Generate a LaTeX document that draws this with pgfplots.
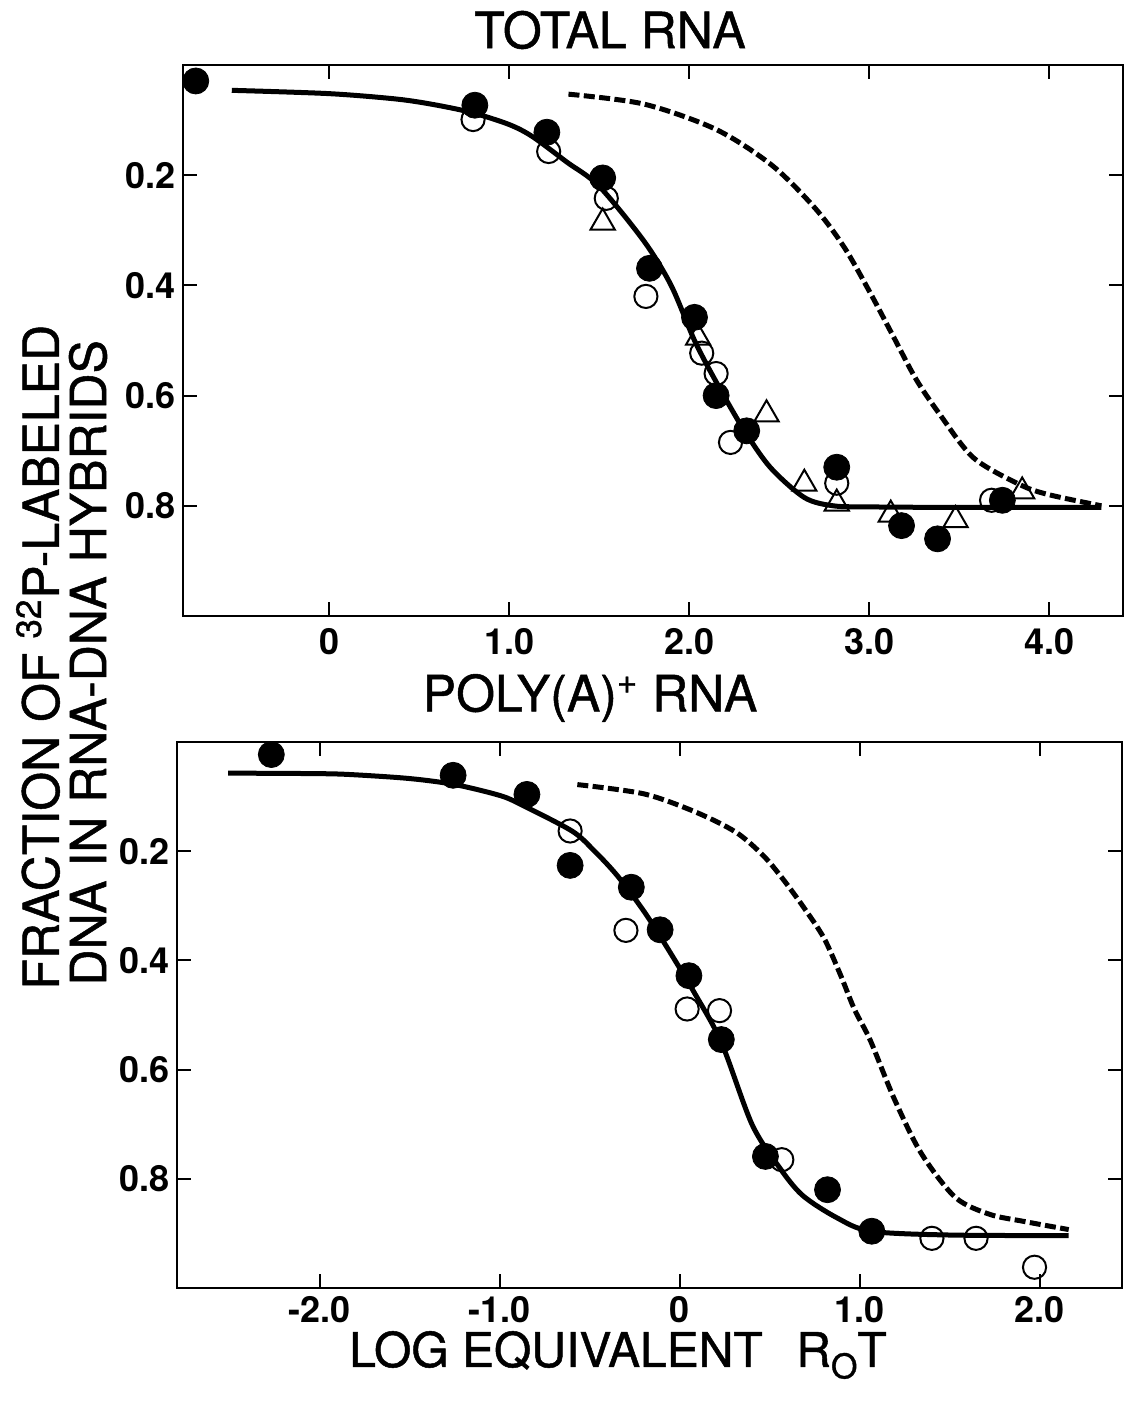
\documentclass[border=0pt]{standalone}
\usepackage{fontspec}
\setmainfont{TeX Gyre Heros}
\newfontfamily\medfont[FakeBold=1]{TeX Gyre Heros}
\usepackage{pgfplots}
\pgfplotsset{compat=1.18}
\pgfplotsset{
  panel/.style={scale only axis, anchor=south west, ymin=0, ymax=1, y dir=reverse,
    ytick={0.2,0.4,0.6,0.8}, yticklabels={0.2,0.4,0.6,0.8},
    tick align=inside, major tick length=7pt,
    axis line style={line width=1pt}, tick style={line width=1pt, black},
    ticklabel style={font=\bfseries\fontsize{18}{18}\selectfont},
    clip=false, xtick pos=both, ytick pos=both},
  fitline/.style={black, line width=2.5pt, smooth, tension=0.5, no marks},
  dashline/.style={black, line width=2.5pt, smooth, tension=0.5, no marks, dash pattern=on 5.5pt off 2.2pt},
  filled/.style={only marks, mark=*, mark size=6.5pt, mark options={fill=black, draw=black}},
  opencirc/.style={only marks, mark=o, mark size=5.8pt, mark options={line width=1pt, draw=black}},
  opentri/.style={only marks, mark=triangle, mark size=7pt, mark options={line width=1pt, draw=black}},
}
\begin{document}
\begin{tikzpicture}
\path[use as bounding box] (0,0) rectangle (571.5pt,711pt);
% ---------------- top panel ----------------
\begin{axis}[panel, at={(91.5pt,403pt)}, width=470pt, height=275.5pt,
  xticklabel style={yshift=-2.5pt},
  xmin=-0.811, xmax=4.41, xtick={0,1,2,3,4}, xticklabels={0,1.0,2.0,3.0,4.0}]
\addplot[fitline] coordinates {(-0.54,0.046) (0,0.052) (0.38,0.062) (0.6,0.073) (0.8,0.087) (1.0,0.108) (1.13,0.13) (1.32,0.176) (1.5,0.22) (1.75,0.32) (1.9,0.40) (2.03,0.50) (2.15,0.575) (2.3,0.66) (2.45,0.73) (2.64,0.785) (2.8,0.80) (3.0,0.802) (3.5,0.803) (4.29,0.803)};
\addplot[dashline] coordinates {(1.33,0.053) (1.75,0.071) (2.15,0.117) (2.46,0.182) (2.70,0.26) (2.86,0.33) (3.0,0.41) (3.13,0.49) (3.26,0.57) (3.39,0.633) (3.58,0.713) (3.84,0.762) (4.0,0.78) (4.29,0.80)};
\addplot[opencirc] coordinates {(0.80,0.099) (1.22,0.157) (1.54,0.242) (1.76,0.42) (2.07,0.523) (2.15,0.56) (2.23,0.685) (2.82,0.759) (3.68,0.79)};
\addplot[opentri] coordinates {(1.52,0.286) (2.05,0.495) (2.43,0.634) (2.64,0.76) (2.82,0.796) (3.12,0.816) (3.48,0.826) (3.85,0.774)};
\addplot[filled] coordinates {(-0.74,0.029) (0.81,0.073) (1.21,0.122) (1.52,0.205) (1.78,0.369) (2.03,0.458) (2.15,0.60) (2.32,0.664) (2.82,0.73) (3.18,0.836) (3.38,0.86) (3.74,0.79)};
\end{axis}
% ---------------- bottom panel ----------------
\begin{axis}[panel, at={(88.5pt,67pt)}, width=472.5pt, height=273pt,
  xticklabel style={yshift=-0.5pt},
  xmin=-2.794, xmax=2.456, xtick={-2,-1,0,1,2}, xticklabels={-2.0,-1.0,0,1.0,2.0}]
\addplot[fitline] coordinates {(-2.51,0.057) (-2.0,0.058) (-1.81,0.06) (-1.5,0.067) (-1.25,0.078) (-1.0,0.098) (-0.88,0.115) (-0.6,0.163) (-0.48,0.198) (-0.35,0.244) (-0.2,0.31) (-0.07,0.377) (0.085,0.462) (0.23,0.55) (0.40,0.70) (0.55,0.778) (0.68,0.83) (0.87,0.871) (1.06,0.896) (1.5,0.903) (2.16,0.904)};
\addplot[dashline] coordinates {(-0.57,0.078) (-0.2,0.095) (0.085,0.128) (0.31,0.165) (0.46,0.207) (0.57,0.25) (0.69,0.304) (0.80,0.359) (0.89,0.425) (0.97,0.49) (1.057,0.546) (1.19,0.653) (1.34,0.753) (1.53,0.834) (1.72,0.865) (1.91,0.878) (2.16,0.893)};
\addplot[opencirc] coordinates {(-0.61,0.163) (-0.30,0.345) (0.04,0.489) (0.22,0.492) (0.566,0.765) (1.40,0.909) (1.645,0.909) (1.97,0.962)};
\addplot[filled] coordinates {(-2.27,0.023) (-1.26,0.061) (-0.85,0.096) (-0.61,0.226) (-0.27,0.266) (-0.11,0.344) (0.05,0.428) (0.23,0.545) (0.475,0.759) (0.82,0.82) (1.066,0.896)};
\end{axis}
% ---------------- texts ----------------
\node[font=\medfont\fontsize{25}{25}\selectfont] at (305pt,696pt) {TOTAL RNA};
\node[font=\medfont\fontsize{25}{25}\selectfont] at (295pt,362pt) {POLY(A)\textsuperscript{+} RNA};
\node[font=\medfont\fontsize{24}{24}\selectfont, anchor=base] at (309pt,27.5pt) {LOG EQUIVALENT\hspace{0.7em}R\raisebox{-0.45ex}{\fontsize{17}{17}\selectfont O}T};
\node[font=\medfont\fontsize{25}{25}\selectfont, rotate=90, anchor=west, inner sep=0pt] at (19pt,216pt) {FRACTION OF \textsuperscript{32}P-LABELED};
\node[font=\medfont\fontsize{25}{25}\selectfont, rotate=90, anchor=west, inner sep=0pt] at (44pt,218pt) {DNA IN RNA-DNA HYBRIDS};
\end{tikzpicture}
\end{document}
